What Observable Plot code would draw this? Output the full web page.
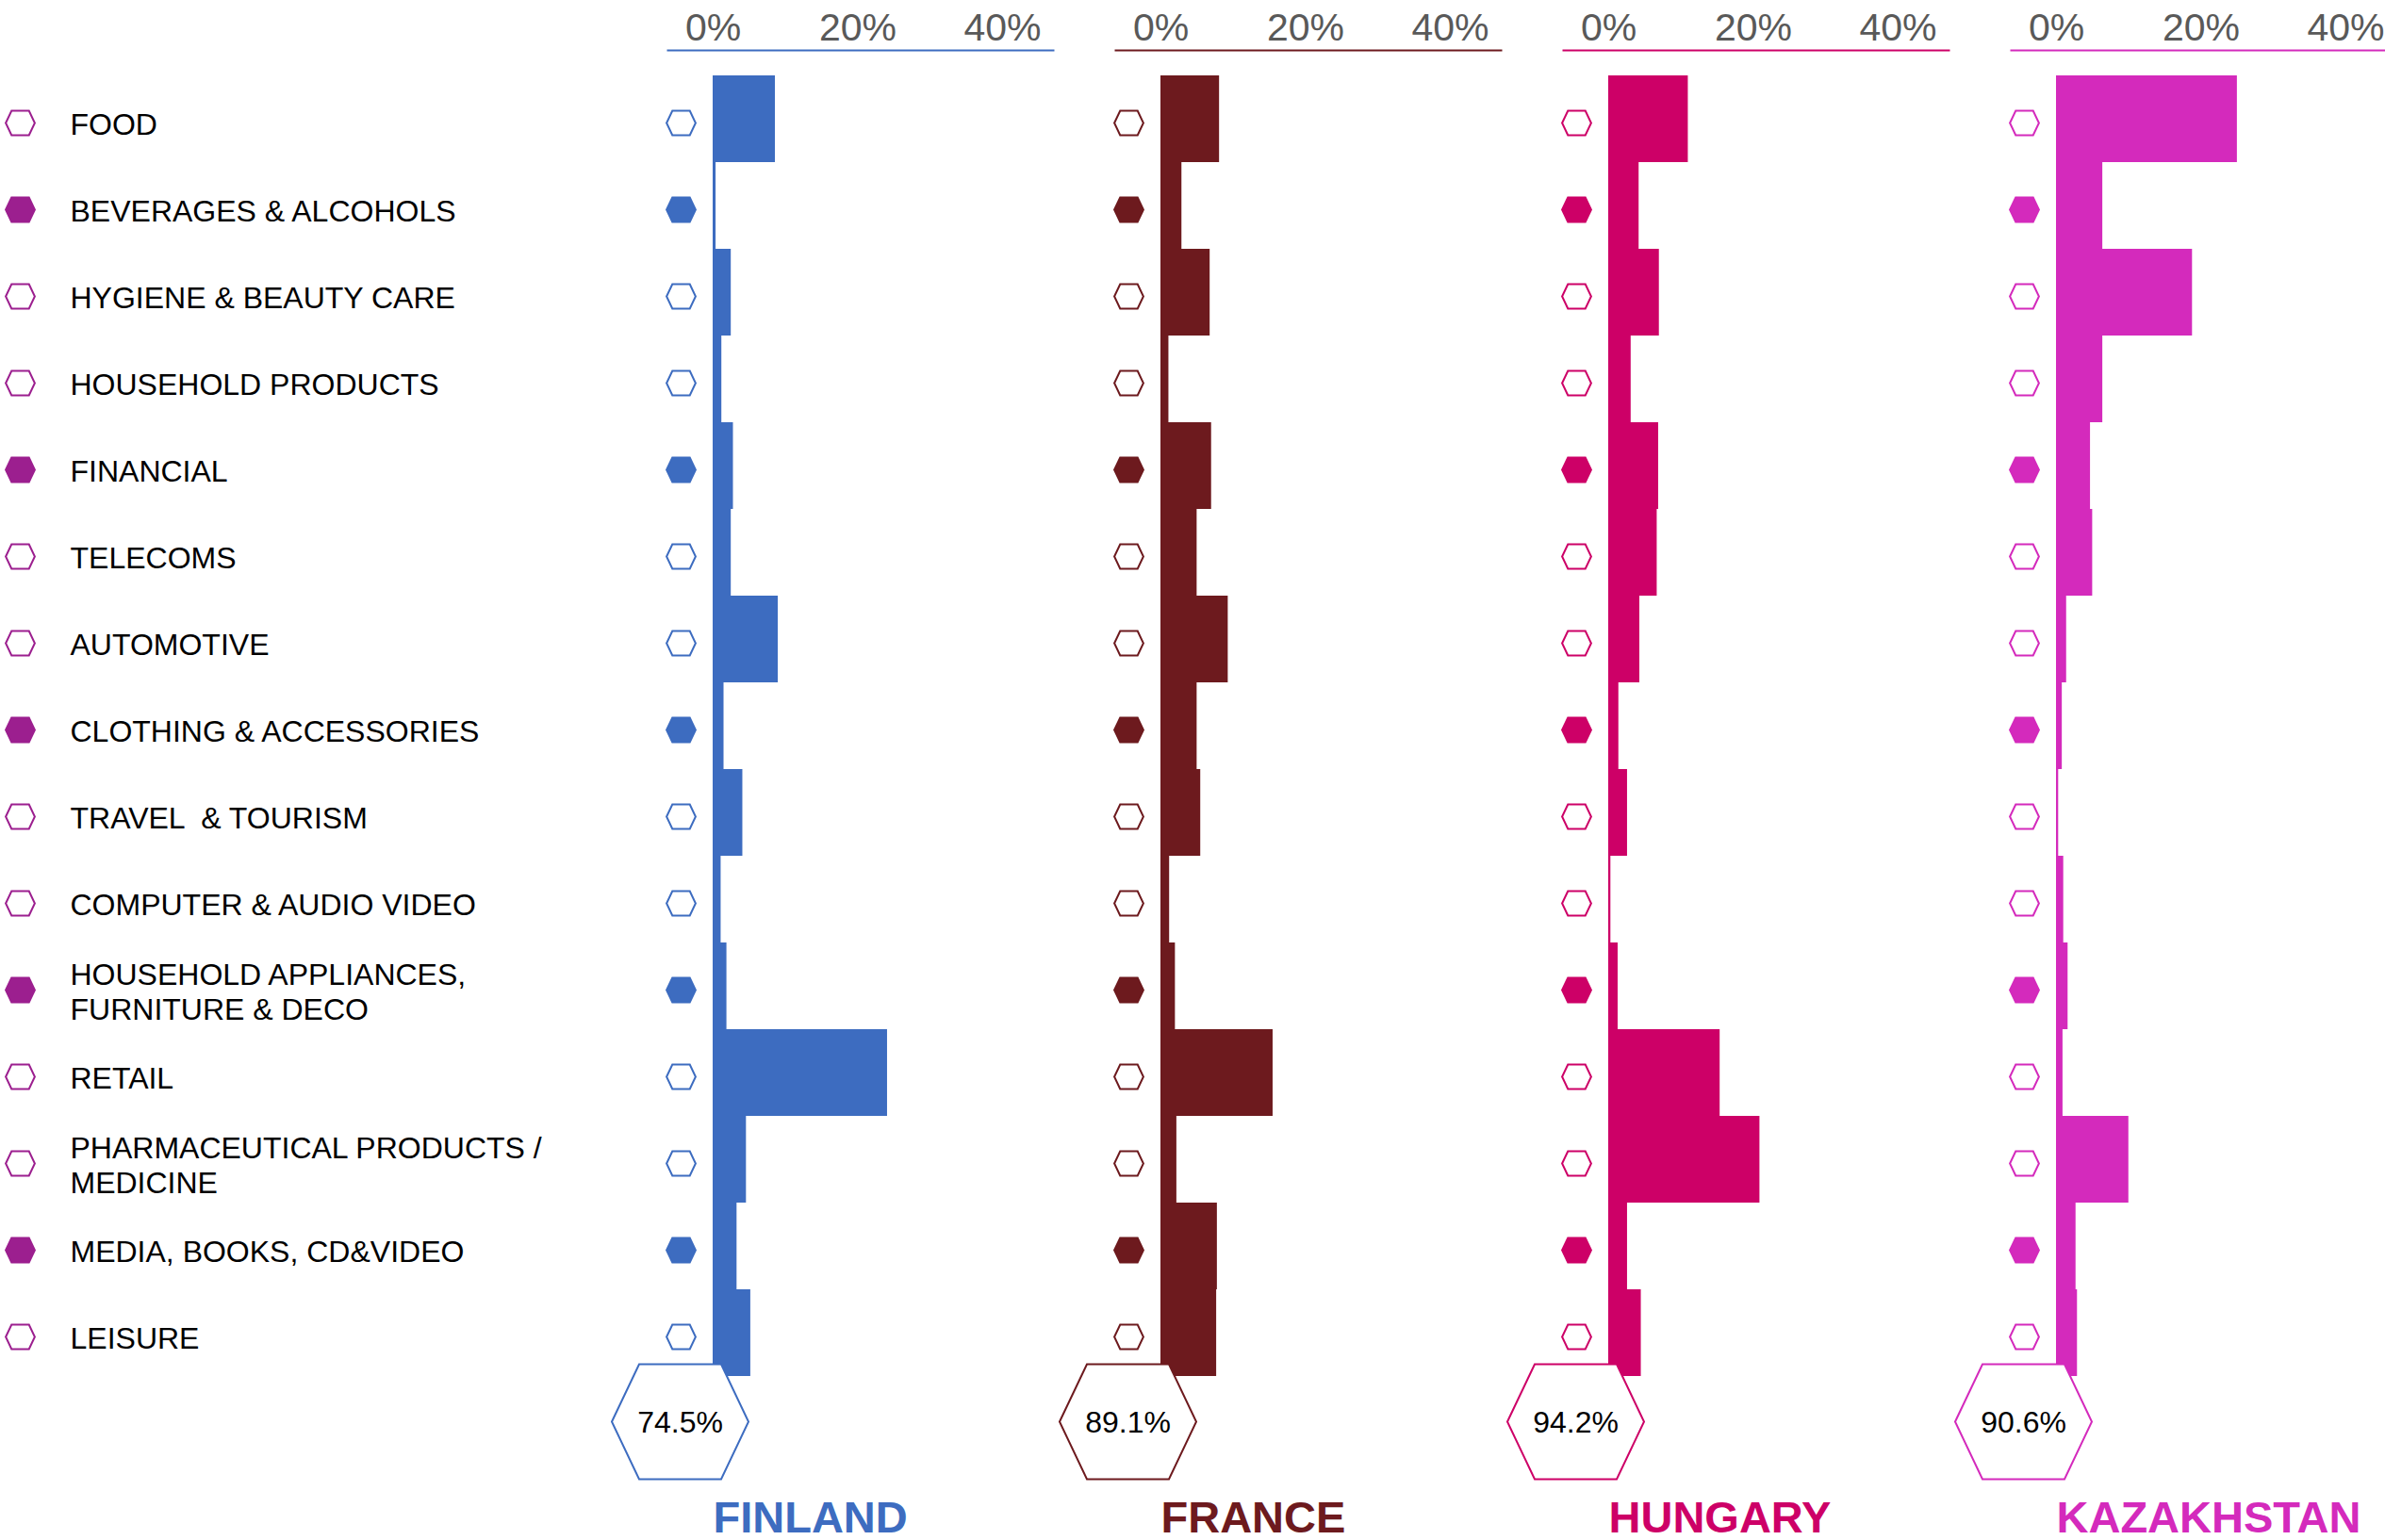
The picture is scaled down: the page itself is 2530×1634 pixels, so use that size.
<!DOCTYPE html>
<html><head><meta charset="utf-8">
<script src="https://cdn.jsdelivr.net/npm/d3@7"></script>
<script src="https://cdn.jsdelivr.net/npm/@observablehq/plot@0.6"></script>
<style>
html,body{margin:0;padding:0;background:#fff;overflow:hidden;}
#chart{position:relative;width:2530px;height:1634px;overflow:hidden;font-family:"Liberation Sans",Arial,sans-serif;}
#chart svg{position:absolute;top:0;overflow:visible;}
#chart text{white-space:pre;}
</style></head><body><div id="chart"></div>
<script>
// ---- data ----
const categories = [
  "FOOD",
  "BEVERAGES & ALCOHOLS",
  "HYGIENE & BEAUTY CARE",
  "HOUSEHOLD PRODUCTS",
  "FINANCIAL",
  "TELECOMS",
  "AUTOMOTIVE",
  "CLOTHING & ACCESSORIES",
  "TRAVEL  & TOURISM",
  "COMPUTER & AUDIO VIDEO",
  "HOUSEHOLD APPLIANCES,\nFURNITURE & DECO",
  "RETAIL",
  "PHARMACEUTICAL PRODUCTS /\nMEDICINE",
  "MEDIA, BOOKS, CD&VIDEO",
  "LEISURE"
];
const filledCategories = [
  "BEVERAGES & ALCOHOLS",
  "FINANCIAL",
  "CLOTHING & ACCESSORIES",
  "HOUSEHOLD APPLIANCES,\nFURNITURE & DECO",
  "MEDIA, BOOKS, CD&VIDEO"
];
const countries = ["FINLAND", "FRANCE", "HUNGARY", "KAZAKHSTAN"];
const countryColors = ["#3D6CC0", "#6D1A1E", "#CD0067", "#D42ABC"];
const totals = [74.5, 89.1, 94.2, 90.6];
const finland    = [8.6, 0.4, 2.5, 1.2, 2.8, 2.5, 9.0, 1.5, 4.1, 1.1, 1.9, 24.1, 4.6, 3.3, 5.2];
const france     = [8.1, 2.9, 6.8, 1.1, 7.0, 5.0, 9.3, 5.0, 5.5, 1.2, 2.0, 15.5, 2.2, 7.8, 7.7];
const hungary    = [11.0, 4.2, 7.0, 3.1, 6.9, 6.7, 4.3, 1.4, 2.6, 0.3, 1.3, 15.4, 20.9, 2.6, 4.5];
const kazakhstan = [25.0, 6.4, 18.8, 6.4, 4.7, 5.0, 1.4, 0.8, 0.3, 1.0, 1.6, 0.9, 10.0, 2.7, 2.9];
const seriesValues = [finland, france, hungary, kazakhstan];
const tickValues = [0, 20, 40];
const labelHexColor = "#9C1F8F";

// ---- custom flat hexagon symbol ----
const flatHex = {
  draw(context, size) {
    const r = Math.sqrt(size / Math.PI);
    const h = r * 0.84, t = r * 0.6;
    context.moveTo(-r, 0);
    context.lineTo(-t, -h);
    context.lineTo(t, -h);
    context.lineTo(r, 0);
    context.lineTo(t, h);
    context.lineTo(-t, h);
    context.closePath();
  }
};

const H = 1634;
const font = "'Liberation Sans', Arial, sans-serif";
const makeY = () => ({type: "band", domain: categories, range: [80, 1460], padding: 0, axis: null});
const chart = document.getElementById("chart");

// ---- left label column ----
const labelPlot = Plot.plot({
  width: 700, height: H,
  marginTop: 53, marginBottom: H - 1460, marginLeft: 0, marginRight: 0,
  y: makeY(),
  color: {type: "identity"},
  style: {fontFamily: font, background: "transparent", overflow: "visible"},
  marks: [
    Plot.dot(categories, {
      y: d => d, frameAnchor: "left", dx: 21, dy: 4, r: 15.4, symbol: flatHex,
      stroke: labelHexColor, strokeWidth: 2,
      fill: d => filledCategories.includes(d) ? labelHexColor : "white"
    }),
    Plot.text(categories, {
      y: d => d, frameAnchor: "left", dx: 74, dy: 5, text: d => d,
      textAnchor: "start", fontSize: 32, fill: "black", lineHeight: 1.16
    })
  ]
});
labelPlot.style.left = "0px";
chart.appendChild(labelPlot);

// ---- country panels ----
const panelFirstLeft = 646, panelStep = 475, panelW = 480;
countries.forEach((name, i) => {
  const color = countryColors[i];
  const rows = categories.map((c, j) => ({
    category: c, value: seriesValues[i][j], filled: filledCategories.includes(c)
  }));
  const p = Plot.plot({
    width: panelW, height: H,
    marginTop: 53, marginBottom: H - 1460, marginLeft: 62, marginRight: 9,
    x: {domain: [0, 40], range: [110, 417]},
    y: makeY(),
    color: {type: "identity"},
    style: {fontFamily: font, background: "transparent", overflow: "visible"},
    marks: [
      Plot.frame({anchor: "top", stroke: color, strokeWidth: 2}),
      Plot.axisX({anchor: "top", ticks: tickValues, tickSize: 0, tickPadding: 11,
        tickFormat: d => d + "%", fontSize: 41, color: "#595959", label: null}),
      Plot.ruleX(rows, {x: 0, y: "category", stroke: "#c9c9c9", strokeWidth: 2, dx: -1.5}),
      Plot.barX(rows, {x: "value", y: "category", fill: color}),
      Plot.dot(rows, {x: 0, y: "category", dx: -34, dy: 4, r: 15.4, symbol: flatHex,
        stroke: color, strokeWidth: 2, fill: d => d.filled ? color : "white"}),
      Plot.dot([totals[i]], {x: 0, frameAnchor: "bottom", dx: -35, dy: 48, r: 72.5,
        symbol: flatHex, fill: "white", stroke: color, strokeWidth: 2}),
      Plot.text([totals[i]], {x: 0, frameAnchor: "bottom", dx: -35, dy: 59,
        text: d => d.toFixed(1) + "%", fontSize: 32, fill: "black"}),
      Plot.text([name], {x: 0, frameAnchor: "bottom", dy: 165, text: d => d,
        textAnchor: "start", fontSize: 47, fontWeight: "bold", fill: color})
    ]
  });
  p.style.left = (panelFirstLeft + i * panelStep) + "px";
  chart.appendChild(p);
});
</script></body></html>
